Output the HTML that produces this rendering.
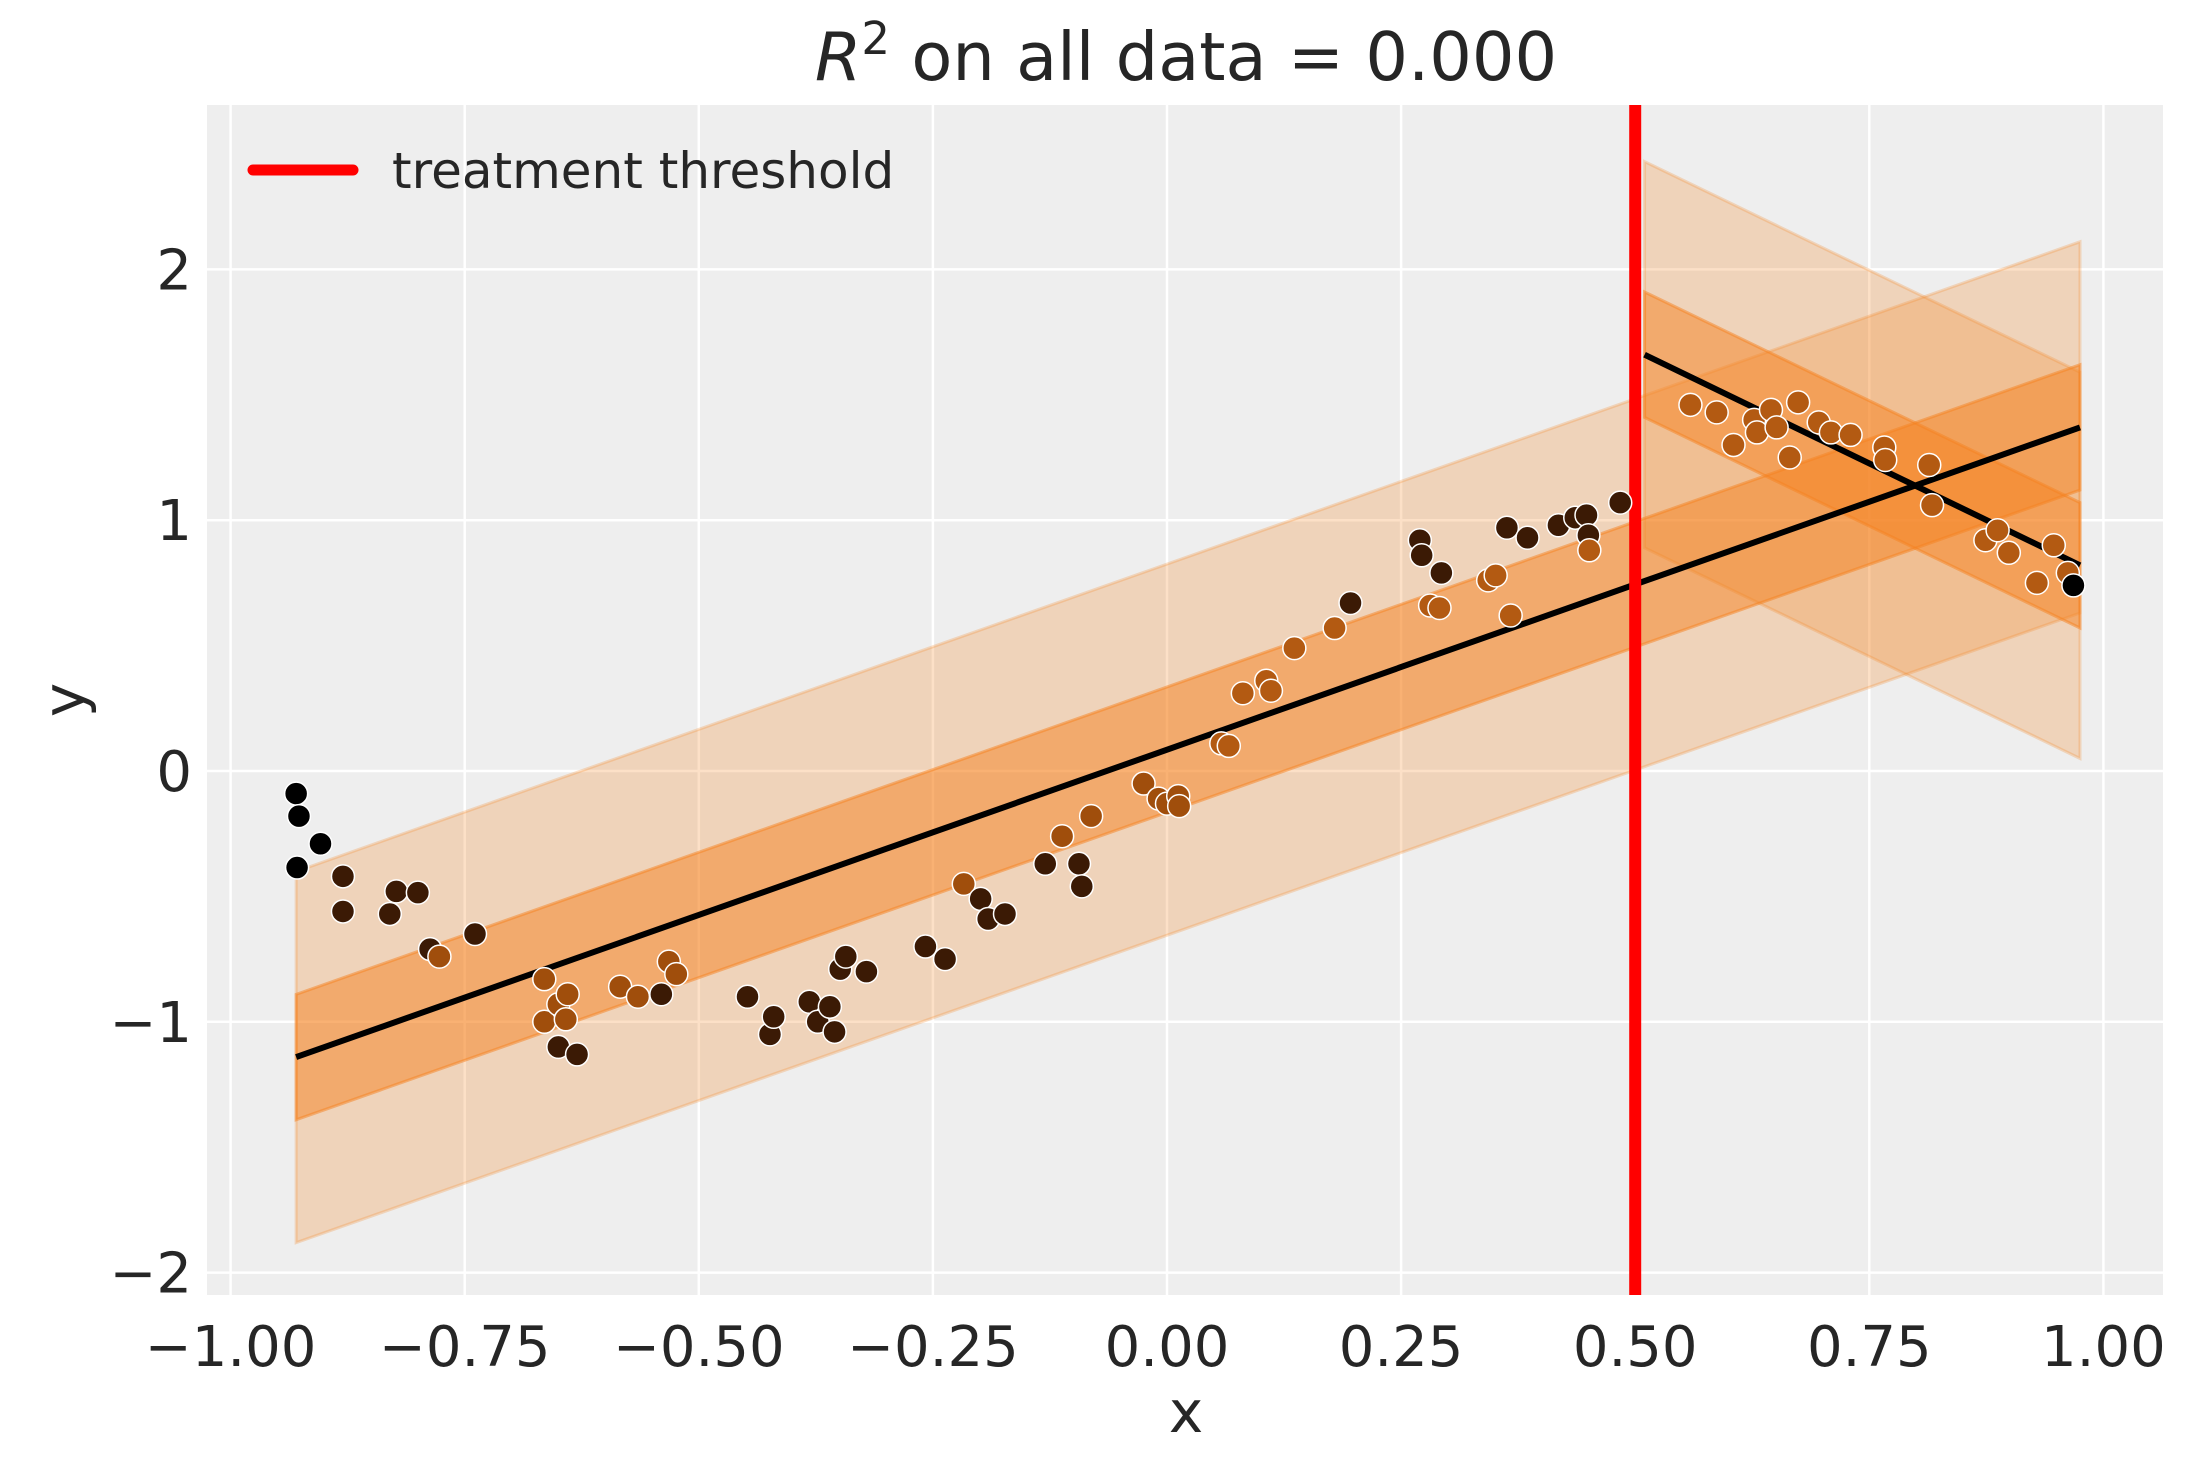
<!DOCTYPE html>
<html><head><meta charset="utf-8">
<style>
html,body{margin:0;padding:0;background:#fff;}
svg{display:block;}
text{font-family:"DejaVu Sans","Liberation Sans",sans-serif;fill:#262626;}
</style></head>
<body>
<svg id="chart" width="2194" height="1474" viewBox="0 0 2194 1474" xmlns="http://www.w3.org/2000/svg">
  <rect x="207" y="105" width="1956" height="1190" fill="#eeeeee"/>
  <g id="grid"></g>
  <g id="bands"></g>
  <g id="lines"></g>
  <g id="points"></g>
  <g id="ticks"></g>
  <text x="1186" y="80" font-size="67" text-anchor="middle"><tspan font-style="italic">R</tspan><tspan font-size="45" dy="-26">2</tspan><tspan dy="26"> on all data = 0.000</tspan></text>
  <text x="1186" y="1432" font-size="58" text-anchor="middle">x</text>
  <text x="0" y="0" font-size="58" text-anchor="middle" transform="translate(84,700) rotate(-90)">y</text>
  <g>
    <line x1="253" y1="170" x2="353" y2="170" stroke="#ff0000" stroke-width="11" stroke-linecap="round"/>
    <text x="392" y="188" font-size="50">treatment threshold</text>
  </g>
</svg>
<script>
const xTicks=[-1.0,-0.75,-0.5,-0.25,0.0,0.25,0.5,0.75,1.0];
const xTickLabels=["−1.00","−0.75","−0.50","−0.25","0.00","0.25","0.50","0.75","1.00"];
const yTicks=[-2,-1,0,1,2];
const yTickLabels=["−2","−1","0","1","2"];
const threshold=0.5;
// fit lines: [x0, x1, slope, intercept, innerHalfWidth, outerHalfWidth]
const leftFit=[-0.93,0.975,1.318,0.085,0.25,0.74];
const rightFit=[0.51,0.975,-1.806,2.581,0.25,0.77];
const ptX=[-0.930,-0.927,-0.904,-0.929,-0.88,-0.88,-0.83,-0.823,-0.80,-0.787,-0.777,-0.739,-0.665,-0.665,-0.65,-0.64,-0.642,-0.65,-0.63,-0.584,-0.565,-0.54,-0.532,-0.524,-0.448,-0.424,-0.42,-0.382,-0.373,-0.36,-0.355,-0.349,-0.343,-0.321,-0.258,-0.237,-0.217,-0.199,-0.191,-0.173,-0.130,-0.112,-0.094,-0.091,-0.081,-0.025,-0.009,0.0,0.012,0.013,0.058,0.066,0.081,0.106,0.111,0.136,0.179,0.196,0.27,0.272,0.293,0.281,0.291,0.343,0.351,0.363,0.367,0.385,0.418,0.436,0.448,0.45,0.451,0.484,0.559,0.587,0.605,0.627,0.630,0.645,0.651,0.665,0.674,0.696,0.709,0.730,0.766,0.767,0.814,0.817,0.874,0.887,0.899,0.929,0.947,0.962,0.968];
const ptY=[-0.09,-0.18,-0.29,-0.385,-0.42,-0.56,-0.57,-0.48,-0.485,-0.71,-0.74,-0.65,-0.83,-1.0,-0.93,-0.89,-0.99,-1.10,-1.13,-0.86,-0.90,-0.89,-0.76,-0.81,-0.90,-1.05,-0.98,-0.92,-1.0,-0.94,-1.04,-0.79,-0.74,-0.80,-0.70,-0.75,-0.45,-0.51,-0.59,-0.57,-0.37,-0.26,-0.37,-0.46,-0.18,-0.05,-0.11,-0.13,-0.10,-0.14,0.11,0.10,0.31,0.36,0.32,0.49,0.57,0.67,0.92,0.86,0.79,0.66,0.65,0.76,0.78,0.97,0.62,0.93,0.98,1.01,1.02,0.94,0.88,1.07,1.46,1.43,1.30,1.40,1.35,1.44,1.37,1.25,1.47,1.39,1.35,1.34,1.29,1.24,1.22,1.06,0.92,0.96,0.87,0.75,0.90,0.79,0.74];
const ptShade=[0,0,0,0,1,1,1,1,1,1,2,1,2,2,2,2,2,1,1,2,2,1,2,2,1,1,1,1,1,1,1,1,1,1,1,1,2,1,1,1,1,2,1,1,2,2,2,2,2,2,3,3,3,3,3,3,3,1,1,1,1,3,3,3,3,1,3,1,1,1,1,1,3,1,3,3,3,3,3,3,3,3,3,3,3,3,3,3,3,3,3,3,3,3,3,3,0];
const shadeColors=["#000000","#3b1a05","#a04e0c","#b35a12"];

const NS="http://www.w3.org/2000/svg";
const L=207,R=2163,T=105,B=1295;
function sx(x){return 1167+x*936.4;}
function sy(y){return 771-y*250.8;}
function mk(tag,attrs,parent){const e=document.createElementNS(NS,tag);for(const k in attrs)e.setAttribute(k,attrs[k]);parent.appendChild(e);return e;}
const grid=document.getElementById('grid'),ticks=document.getElementById('ticks');
xTicks.forEach((v,i)=>{
  const g=mk('line',{x1:sx(v),x2:sx(v),y1:T,y2:B,stroke:'#ffffff','stroke-width':2.5},grid);
  
  
  const t=mk('text',{x:sx(v),y:1366,'font-size':56,'text-anchor':'middle'},ticks);
  t.textContent=xTickLabels[i];
  
  
});
yTicks.forEach((v,i)=>{
  const g=mk('line',{x1:L,x2:R,y1:sy(v),y2:sy(v),stroke:'#ffffff','stroke-width':2.5},grid);
  
  
  const t=mk('text',{x:192,y:sy(v)+20,'font-size':56,'text-anchor':'end'},ticks);
  t.textContent=yTickLabels[i];
  
  
});
const bands=document.getElementById('bands'),lines=document.getElementById('lines');
function band(f,hw,op,name){
  const [x0,x1,m,b]=f;
  const p=[[x0,m*x0+b+hw],[x1,m*x1+b+hw],[x1,m*x1+b-hw],[x0,m*x0+b-hw]].map(q=>sx(q[0])+','+sy(q[1])).join(' ');
  const e=mk('polygon',{points:p,fill:'#f5821f','fill-opacity':op,stroke:'#f5821f','stroke-opacity':op,'stroke-width':3},bands);
  
  
}
[[leftFit,'left'],[rightFit,'right']].forEach(([f,n])=>{
  band(f,f[5],0.25,n+'-outer-band');
  band(f,f[4],0.5,n+'-inner-band');
});
[[leftFit,'left'],[rightFit,'right']].forEach(([f,n])=>{
  const [x0,x1,m,b]=f;
  const e=mk('line',{x1:sx(x0),y1:sy(m*x0+b),x2:sx(x1),y2:sy(m*x1+b),stroke:'#000','stroke-width':6},lines);
  
  
});
const th=mk('line',{x1:sx(threshold),x2:sx(threshold),y1:T,y2:B,stroke:'#ff0000','stroke-width':12},lines);


const pts=document.getElementById('points');
ptX.forEach((x,i)=>{
  const c=mk('circle',{cx:sx(x),cy:sy(ptY[i]),r:11.5,fill:shadeColors[ptShade[i]],stroke:'#ffffff','stroke-width':1.5},pts);
  
  
});
</script>
</body></html>
